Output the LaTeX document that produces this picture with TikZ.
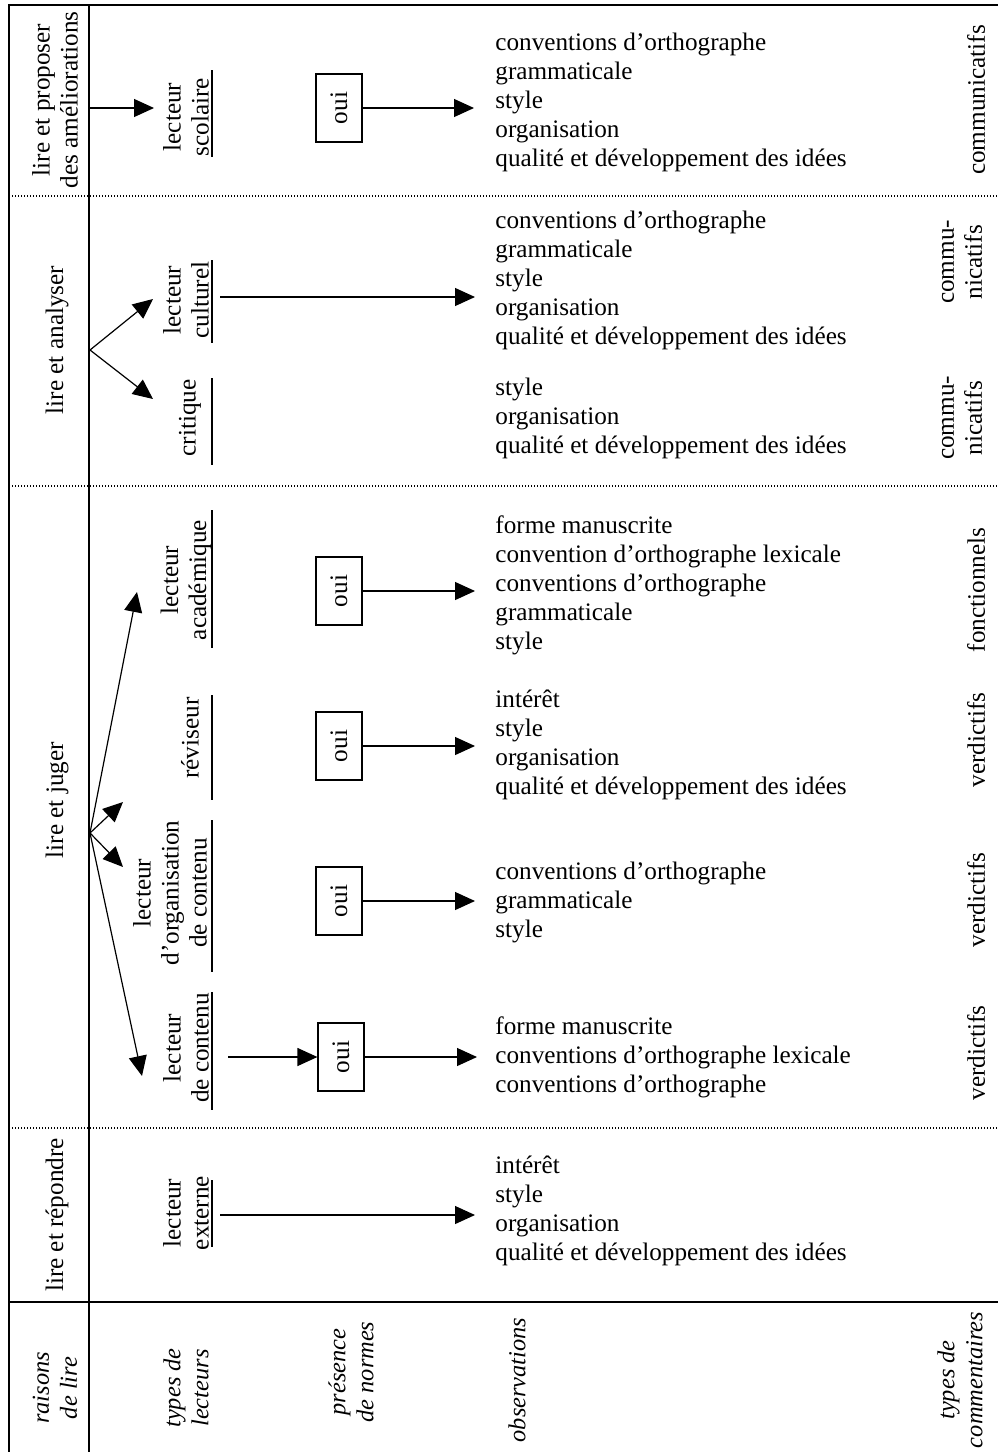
\documentclass[tikz,border=0pt]{standalone}
\usepackage{fontspec}
\setmainfont{Liberation Serif}
\usetikzlibrary{arrows.meta}

\begin{document}
\begin{tikzpicture}[x=0.5pt,y=-0.5pt,
  rule/.style={line width=0.8pt},
  sep/.style={line width=0.6pt, dash pattern=on 0.5pt off 1pt},
  link/.style={line width=0.6pt, -{Triangle[length=10pt,width=9pt]}},
  uline/.style={line width=0.6pt},
  vtext/.style={rotate=90, align=center, inner sep=0pt,
    font=\fontsize{12.6}{14}\selectfont},
  head/.style={vtext, font=\fontsize{12.2}{14}\selectfont\itshape},
  obs/.style={anchor=west, align=left, inner sep=0pt,
    font=\fontsize{12.6}{14.5}\selectfont},
  normbox/.style={draw, rotate=90, line width=0.6pt, inner sep=0pt,
    minimum width=34pt, minimum height=23pt,
    font=\fontsize{12.6}{14}\selectfont}
]
\useasboundingbox (0,0) rectangle (998,1452);

% frame and row separators
\draw[rule] (9,1452) -- (9,5) -- (998,5);
\draw[rule] (89,5) -- (89,1452);
\draw[rule] (9,1302) -- (998,1302);
\draw[sep] (9,196) -- (998,196);
\draw[sep] (9,486) -- (998,486);
\draw[sep] (9,1128) -- (998,1128);

% reasons for reading
\node[vtext] (r1) at (55,100) {lire et proposer\\des améliorations};
\node[vtext] (r2) at (57,340) {lire et analyser};
\node[vtext] (r3) at (57,800) {lire et juger};
\node[vtext] (r4) at (57,1215) {lire et répondre};

% reader types
\node[vtext] (t1) at (186,117) {lecteur\\scolaire};
\node[vtext] (t2) at (186,300) {lecteur\\culturel};
\node[vtext] (t3) at (190,418) {critique};
\node[vtext] (t4) at (186,580) {lecteur\\académique};
\node[vtext] (t5) at (190,738) {réviseur};
\node[vtext] (t6) at (170,893) {lecteur\\d’organisation\\de contenu};
\node[vtext] (t7) at (186,1048) {lecteur\\de contenu};
\node[vtext] (t8) at (186,1213) {lecteur\\externe};

\draw[uline] (212,70) -- (212,157);
\draw[uline] (212,260) -- (212,343);
\draw[uline] (212,378) -- (212,465);
\draw[uline] (212,510) -- (212,648);
\draw[uline] (212,695) -- (212,800);
\draw[uline] (212,820) -- (212,972);
\draw[uline] (212,992) -- (212,1110);
\draw[uline] (212,1180) -- (212,1247);

% branching from the reasons
\coordinate (b1) at (89,108);
\coordinate (b2) at (90,350);
\coordinate (b3) at (90,833);
\coordinate (a1) at (154,108);
\coordinate (a2) at (153,299);
\coordinate (a3) at (153,399);
\coordinate (a4) at (137,592);
\coordinate (a5) at (123,802);
\coordinate (a6) at (123,867);
\coordinate (a7) at (142,1076);
\draw[link] (b1) -- (a1);
\draw[link] (b2) -- (a2);
\draw[link] (b2) -- (a3);
\draw[link] (b3) -- (a4);
\draw[link] (b3) -- (a5);
\draw[link] (b3) -- (a6);
\draw[link] (b3) -- (a7);

% presence of norms
\node[normbox] (n1) at (339,108) {oui};
\node[normbox] (n4) at (339,591) {oui};
\node[normbox] (n5) at (339,746) {oui};
\node[normbox] (n6) at (339,901) {oui};
\node[normbox] (n7) at (341,1057) {oui};

% observations
\node[obs] (o1) at (495,102) {conventions d’orthographe\\grammaticale\\style\\organisation\\qualité et développement des idées};
\node[obs] (o2) at (495,280) {conventions d’orthographe\\grammaticale\\style\\organisation\\qualité et développement des idées};
\node[obs] (o3) at (495,418) {style\\organisation\\qualité et développement des idées};
\node[obs] (o4) at (495,585) {forme manuscrite\\convention d’orthographe lexicale\\conventions d’orthographe\\grammaticale\\style};
\node[obs] (o5) at (495,745) {intérêt\\style\\organisation\\qualité et développement des idées};
\node[obs] (o6) at (495,902) {conventions d’orthographe\\grammaticale\\style};
\node[obs] (o7) at (495,1057) {forme manuscrite\\conventions d’orthographe lexicale\\conventions d’orthographe};
\node[obs] (o8) at (495,1211) {intérêt\\style\\organisation\\qualité et développement des idées};

% arrows towards the observations
\coordinate (s2) at (220,297);
\coordinate (e2) at (475,297);
\coordinate (s7) at (228,1057);
\coordinate (s8) at (220,1215);
\coordinate (e8) at (475,1215);
\coordinate (e1) at (474,108);
\coordinate (e4) at (475,591);
\coordinate (e5) at (475,746);
\coordinate (e6) at (475,901);
\coordinate (e7) at (477,1057);
\draw[link] (n1) -- (e1);
\draw[link] (s2) -- (e2);
\draw[link] (n4) -- (e4);
\draw[link] (n5) -- (e5);
\draw[link] (n6) -- (e6);
\draw[link] (s7) -- (n7);
\draw[link] (n7) -- (e7);
\draw[link] (s8) -- (e8);

% comment types
\node[vtext] (c1) at (976,100) {communicatifs};
\node[vtext] (c2) at (962,262) {commu-\\nicatifs};
\node[vtext] (c3) at (962,418) {commu-\\nicatifs};
\node[vtext] (c4) at (976,590) {fonctionnels};
\node[vtext] (c5) at (976,740) {verdictifs};
\node[vtext] (c6) at (976,900) {verdictifs};
\node[vtext] (c7) at (976,1053) {verdictifs};

% column headings
\node[head] (h1) at (55,1388) {raisons\\de lire};
\node[head] (h2) at (186,1388) {types de\\lecteurs};
\node[head] (h3) at (351,1372) {présence\\de normes};
\node[head] (h4) at (517,1380) {observations};
\node[head] (h5) at (960,1380) {types de\\commentaires};
\end{tikzpicture}
\end{document}
